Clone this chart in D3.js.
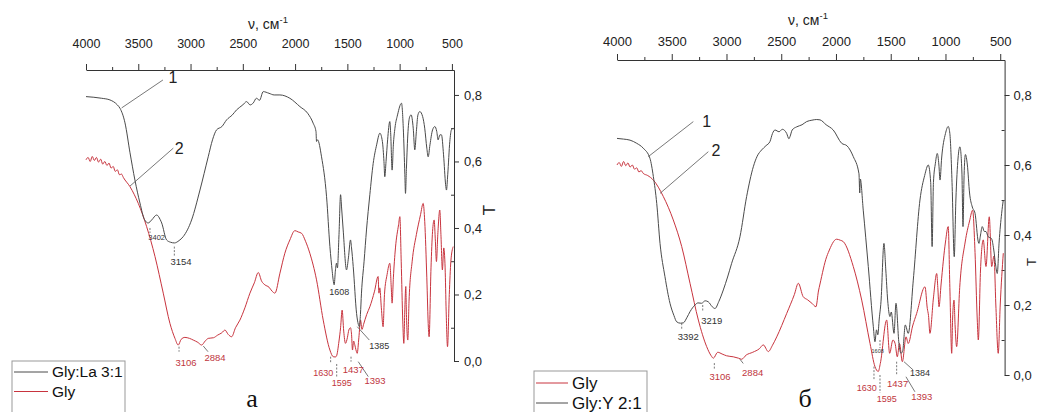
<!DOCTYPE html>
<html>
<head>
<meta charset="utf-8">
<script src="https://cdn.jsdelivr.net/npm/d3@7"></script>
<style>
body{margin:0;background:#fff;}
svg{display:block;font-family:"Liberation Sans",Arial,sans-serif;}
</style>
</head>
<body>
<svg id="chart" width="1038" height="412"></svg>
<script>
// axis ticks
var xTicks = [4000,3500,3000,2500,2000,1500,1000,500];
var xMinorTicks = [3750,3250,2750,2250,1750,1250,750];
var yTicks = [0,0.2,0.4,0.6,0.8];
var yMinorTicks = [0.1,0.3,0.5,0.7];

// panel a: Gly:La 3:1 (curve 1) and Gly (curve 2), [wavenumber, T]
var glyLa = [[4000,0.795],[3850,0.79],[3771,0.785],[3700,0.77],[3675,0.76],[3627,0.716],[3579,0.626],[3532,0.544],[3484,0.475],[3440,0.425],[3405,0.415],[3372,0.424],[3324,0.439],[3290,0.425],[3276,0.415],[3229,0.364],[3190,0.357],[3154,0.355],[3110,0.362],[3070,0.374],[2990,0.424],[2910,0.514],[2831,0.614],[2790,0.665],[2751,0.695],[2700,0.705],[2655,0.725],[2600,0.74],[2560,0.755],[2500,0.77],[2464,0.78],[2430,0.77],[2400,0.776],[2370,0.79],[2340,0.784],[2305,0.81],[2250,0.805],[2200,0.80],[2145,0.80],[2050,0.79],[1954,0.765],[1880,0.745],[1827,0.715],[1800,0.69],[1795,0.66],[1785,0.665],[1747,0.614],[1699,0.494],[1667,0.344],[1645,0.27],[1636,0.244],[1626,0.229],[1615,0.27],[1604,0.294],[1595,0.28],[1580,0.38],[1565,0.50],[1555,0.46],[1540,0.394],[1508,0.274],[1490,0.31],[1470,0.364],[1460,0.34],[1444,0.284],[1412,0.143],[1395,0.11],[1385,0.103],[1375,0.14],[1365,0.204],[1340,0.30],[1317,0.394],[1285,0.50],[1253,0.594],[1220,0.65],[1189,0.685],[1165,0.66],[1150,0.60],[1142,0.554],[1130,0.60],[1115,0.665],[1094,0.72],[1085,0.68],[1072,0.574],[1060,0.65],[1045,0.70],[1020,0.74],[982,0.775],[965,0.70],[950,0.56],[944,0.504],[935,0.58],[920,0.69],[903,0.735],[890,0.74],[870,0.70],[855,0.635],[840,0.69],[825,0.74],[807,0.75],[780,0.735],[760,0.70],[740,0.64],[727,0.614],[710,0.65],[685,0.695],[663,0.705],[645,0.69],[632,0.665],[615,0.68],[600,0.68],[580,0.62],[560,0.53],[552,0.514],[540,0.56],[520,0.66],[505,0.695],[488,0.70]];
var glyA = [[4000,0.605],[3980,0.612],[3960,0.6],[3940,0.615],[3920,0.603],[3900,0.612],[3880,0.598],[3860,0.607],[3840,0.592],[3820,0.6],[3800,0.588],[3780,0.595],[3760,0.58],[3740,0.585],[3720,0.57],[3700,0.575],[3680,0.56],[3660,0.562],[3643,0.552],[3579,0.524],[3500,0.474],[3420,0.404],[3340,0.314],[3261,0.204],[3197,0.113],[3149,0.068],[3118,0.048],[3090,0.065],[3054,0.071],[3010,0.068],[2974,0.063],[2930,0.056],[2894,0.048],[2860,0.06],[2831,0.068],[2780,0.07],[2740,0.078],[2700,0.085],[2671,0.093],[2640,0.08],[2607,0.073],[2570,0.10],[2528,0.123],[2480,0.16],[2432,0.204],[2390,0.235],[2352,0.266],[2320,0.24],[2289,0.229],[2250,0.222],[2220,0.21],[2193,0.204],[2145,0.264],[2098,0.324],[2050,0.364],[2002,0.392],[1970,0.388],[1938,0.384],[1900,0.36],[1859,0.324],[1795,0.244],[1731,0.123],[1667,0.033],[1636,0.013],[1615,0.012],[1604,0.015],[1580,0.06],[1565,0.10],[1550,0.153],[1535,0.09],[1518,0.053],[1500,0.07],[1486,0.093],[1470,0.10],[1460,0.08],[1451,0.033],[1440,0.06],[1430,0.05],[1415,0.03],[1406,0.023],[1390,0.07],[1374,0.123],[1360,0.095],[1345,0.11],[1315,0.14],[1285,0.163],[1240,0.21],[1206,0.254],[1198,0.204],[1190,0.22],[1175,0.16],[1158,0.103],[1145,0.20],[1120,0.26],[1094,0.294],[1080,0.22],[1072,0.174],[1060,0.25],[1040,0.34],[1010,0.41],[998,0.434],[985,0.30],[970,0.12],[960,0.053],[950,0.16],[941,0.224],[935,0.14],[922,0.063],[910,0.18],[880,0.30],[840,0.38],[800,0.44],[775,0.474],[760,0.42],[740,0.25],[725,0.10],[718,0.073],[700,0.28],[685,0.39],[670,0.424],[658,0.36],[648,0.299],[635,0.38],[616,0.454],[605,0.38],[591,0.274],[578,0.34],[565,0.28],[555,0.15],[542,0.043],[525,0.20],[510,0.30],[488,0.344]];

// panel б: Gly:Y 2:1 (curve 1) and Gly (curve 2)
var glyY = [[4000,0.676],[3940,0.674],[3881,0.671],[3820,0.662],[3760,0.648],[3699,0.619],[3668,0.567],[3637,0.49],[3607,0.376],[3562,0.281],[3516,0.205],[3480,0.17],[3455,0.152],[3420,0.148],[3394,0.149],[3360,0.165],[3333,0.181],[3288,0.20],[3260,0.206],[3227,0.205],[3195,0.212],[3166,0.209],[3130,0.195],[3105,0.19],[3070,0.21],[3029,0.243],[2990,0.28],[2953,0.319],[2877,0.395],[2816,0.51],[2755,0.595],[2720,0.625],[2679,0.643],[2640,0.655],[2603,0.667],[2580,0.69],[2557,0.70],[2520,0.695],[2490,0.702],[2450,0.69],[2430,0.675],[2420,0.681],[2400,0.70],[2359,0.709],[2310,0.715],[2268,0.724],[2220,0.728],[2176,0.73],[2146,0.729],[2090,0.715],[2025,0.70],[1948,0.662],[1900,0.655],[1842,0.624],[1790,0.575],[1783,0.52],[1778,0.56],[1751,0.471],[1705,0.31],[1659,0.138],[1644,0.095],[1630,0.129],[1618,0.115],[1605,0.16],[1589,0.209],[1562,0.376],[1545,0.30],[1528,0.214],[1507,0.167],[1495,0.18],[1470,0.119],[1452,0.205],[1425,0.09],[1406,0.062],[1390,0.07],[1367,0.143],[1340,0.119],[1294,0.271],[1233,0.50],[1190,0.57],[1157,0.60],[1135,0.55],[1122,0.367],[1110,0.55],[1092,0.605],[1075,0.633],[1060,0.60],[1050,0.557],[1035,0.62],[1000,0.69],[975,0.71],[960,0.69],[940,0.55],[920,0.338],[905,0.50],[885,0.62],[868,0.652],[850,0.58],[840,0.424],[830,0.57],[818,0.63],[800,0.60],[780,0.52],[755,0.48],[730,0.462],[700,0.38],[694,0.376],[680,0.40],[664,0.424],[645,0.41],[630,0.41],[610,0.395],[580,0.39],[560,0.36],[540,0.31],[527,0.29],[510,0.38],[487,0.462],[472,0.50]];
var glyB = [[4000,0.60],[3980,0.607],[3960,0.596],[3940,0.61],[3920,0.598],[3900,0.606],[3881,0.594],[3860,0.6],[3840,0.588],[3820,0.592],[3800,0.58],[3780,0.584],[3760,0.576],[3720,0.57],[3668,0.557],[3577,0.51],[3486,0.443],[3409,0.367],[3333,0.262],[3257,0.157],[3181,0.081],[3140,0.055],[3120,0.048],[3080,0.065],[3040,0.06],[3000,0.055],[2938,0.052],[2890,0.048],[2862,0.045],[2820,0.057],[2760,0.065],[2700,0.075],[2664,0.086],[2618,0.067],[2580,0.085],[2541,0.109],[2450,0.176],[2380,0.23],[2344,0.262],[2300,0.224],[2260,0.215],[2220,0.205],[2183,0.195],[2160,0.24],[2146,0.26],[2085,0.338],[2070,0.35],[1994,0.388],[1960,0.385],[1933,0.381],[1842,0.31],[1765,0.214],[1689,0.09],[1644,0.024],[1614,0.01],[1595,0.033],[1537,0.157],[1510,0.062],[1480,0.10],[1460,0.09],[1440,0.052],[1420,0.09],[1394,0.038],[1360,0.109],[1340,0.09],[1300,0.14],[1263,0.176],[1187,0.252],[1166,0.19],[1155,0.17],[1142,0.119],[1110,0.22],[1080,0.29],[1070,0.25],[1059,0.195],[1040,0.26],[1000,0.38],[975,0.424],[960,0.25],[943,0.062],[935,0.16],[922,0.214],[912,0.14],[898,0.081],[870,0.25],[820,0.38],[780,0.44],[752,0.471],[730,0.35],[710,0.16],[700,0.10],[680,0.30],[655,0.386],[630,0.31],[600,0.452],[578,0.31],[557,0.34],[540,0.2],[518,0.062],[500,0.2],[472,0.348]];

// peak labels: text, wavenumber, T, font size, colour
var labelsA = [
  {t:"1", nu:3168, v:0.854, s:16, c:"#222"},
  {t:"2", nu:3108, v:0.64, s:16, c:"#222"},
  {t:"3402", nu:3324, v:0.372, s:7.5, c:"#333"},
  {t:"3154", nu:3091, v:0.299, s:9.5, c:"#333"},
  {t:"3106", nu:3044, v:-0.005, s:9.5, c:"#c0363e"},
  {t:"2884", nu:2766, v:0.011, s:9.5, c:"#c0363e"},
  {t:"1608", nu:1577, v:0.207, s:9, c:"#333"},
  {t:"1385", nu:1195, v:0.046, s:9, c:"#333"},
  {t:"1630", nu:1730, v:-0.035, s:9, c:"#c0363e"},
  {t:"1595", nu:1554, v:-0.067, s:9, c:"#c0363e"},
  {t:"1437", nu:1443, v:-0.025, s:9.5, c:"#c0363e"},
  {t:"1393", nu:1236, v:-0.059, s:9.5, c:"#c0363e"}
];
// leaders: nu1, T1, nu2, T2, dashed
var leadersA = [
  [3659,0.761,3264,0.845,0],[3579,0.526,3165,0.64,0],
  [3388,0.40,3388,0.385,1],[3155,0.344,3155,0.314,1],
  [3110,0.043,3110,0.028,1],[2878,0.045,2833,0.028,0],
  [1405,0.103,1290,0.063,0],[1660,0.013,1660,-0.005,1],
  [1602,-0.009,1602,-0.051,1],[1465,0.013,1465,-0.002,1],
  [1396,-0.002,1300,-0.047,0]
];
var labelsB = [
  {t:"1", nu:3181, v:0.724, s:16, c:"#222"},
  {t:"2", nu:3096, v:0.643, s:16, c:"#222"},
  {t:"3392", nu:3349, v:0.109, s:9.5, c:"#333"},
  {t:"3219", nu:3135, v:0.155, s:9.5, c:"#333"},
  {t:"3106", nu:3059, v:-0.005, s:9.5, c:"#c0363e"},
  {t:"2884", nu:2761, v:0.007, s:9.5, c:"#c0363e"},
  {t:"1608", nu:1619, v:0.067, s:5.5, c:"#333"},
  {t:"1384", nu:1233, v:0.005, s:9, c:"#333"},
  {t:"1630", nu:1720, v:-0.036, s:9, c:"#c0363e"},
  {t:"1595", nu:1537, v:-0.069, s:9, c:"#c0363e"},
  {t:"1437", nu:1437, v:-0.024, s:9.5, c:"#c0363e"},
  {t:"1393", nu:1217, v:-0.062, s:9.5, c:"#c0363e"}
];
var leadersB = [
  [3714,0.624,3303,0.724,0],[3607,0.519,3166,0.638,0],
  [3409,0.148,3409,0.129,1],[3217,0.20,3217,0.181,1],
  [3111,0.034,3111,0.014,1],[2877,0.045,2847,0.033,0],
  [1598,0.10,1598,0.077,1],[1379,0.038,1294,0.014,0],
  [1653,0.024,1653,-0.014,1],[1598,0,1598,-0.051,1],
  [1446,0.038,1446,0,1],[1361,-0.005,1279,-0.048,0]
];

var GRAY = "#4a4a4a", RED = "#c8343e";
var svg = d3.select("#chart");

function commaFmt(d){ return d.toFixed(1).replace(".", ","); }

function drawPanel(p){
  var x = d3.scaleLinear().domain(p.xDomain).range([p.left, p.right]);
  var y = d3.scaleLinear().domain(p.yDomain).range([p.bottom, p.top]);
  var g = svg.append("g");

  //top axis
  var ax = g.append("g")
    .attr("transform", "translate(0," + p.top + ")")
    .call(d3.axisTop(x).tickValues(xTicks).tickSize(6).tickSizeOuter(0)
      .tickPadding(p.xPad).tickFormat(d3.format("d")));
  ax.selectAll("text").attr("font-size", p.xFont).attr("font-family", "Liberation Sans, Arial, sans-serif").attr("fill", "#222");
  g.append("g")
    .attr("transform", "translate(0," + p.top + ")")
    .call(d3.axisTop(x).tickValues(xMinorTicks).tickSize(3).tickFormat(""))
    .select(".domain").remove();

  //right axis
  var ay = g.append("g")
    .attr("transform", "translate(" + p.right + ",0)")
    .call(d3.axisRight(y).tickValues(yTicks).tickSize(5).tickSizeOuter(0)
      .tickPadding(p.yPad).tickFormat(commaFmt));
  ay.selectAll("text").attr("font-size", 13).attr("font-family", "Liberation Sans, Arial, sans-serif").attr("fill", "#222");
  g.append("g")
    .attr("transform", "translate(" + p.right + ",0)")
    .call(d3.axisLeft(y).tickValues(yMinorTicks).tickSize(3).tickFormat(""))
    .select(".domain").remove();
  g.selectAll(".domain, .tick line").attr("stroke", "#333");

  //axis titles
  var tt = g.append("text").attr("x", p.titleX).attr("y", p.titleY)
    .attr("text-anchor", "middle").attr("font-size", 14).attr("fill", "#222");
  tt.append("tspan").text("ν, см");
  tt.append("tspan").attr("dy", -6).attr("font-size", 9.5).text("-1");
  g.append("text")
    .attr("transform", "translate(" + p.tX + "," + p.tY + ") rotate(-90)")
    .attr("text-anchor", "middle").attr("dy", "0.35em")
    .attr("font-size", p.tFont).attr("fill", "#222").text("T");

  //spectra
  var line = d3.line()
    .x(function(d){ return x(d[0]); })
    .y(function(d){ return y(d[1]); })
    .curve(d3.curveMonotoneX);
  p.series.forEach(function(s){
    g.append("path").datum(s.data)
      .attr("d", line).attr("fill", "none")
      .attr("stroke", s.color).attr("stroke-width", 1);
  });

  //leaders + labels
  g.selectAll(".leader").data(p.leaders).enter().append("line")
    .attr("x1", function(d){ return x(d[0]); })
    .attr("y1", function(d){ return y(d[1]); })
    .attr("x2", function(d){ return x(d[2]); })
    .attr("y2", function(d){ return y(d[3]); })
    .attr("stroke", "#555").attr("stroke-width", 0.8)
    .attr("stroke-dasharray", function(d){ return d[4] ? "2,1.5" : null; });
  g.selectAll(".lbl").data(p.labels).enter().append("text")
    .attr("x", function(d){ return x(d.nu); })
    .attr("y", function(d){ return y(d.v); })
    .attr("dy", "0.35em").attr("text-anchor", "middle")
    .attr("font-size", function(d){ return d.s; })
    .attr("fill", function(d){ return d.c; })
    .text(function(d){ return d.t; });

  //legend
  var lg = g.append("g");
  lg.append("rect").attr("x", p.legX).attr("y", p.legY)
    .attr("width", p.legW).attr("height", 60)
    .attr("fill", "#fff").attr("stroke", "#999").attr("stroke-width", 1);
  p.legend.forEach(function(e, i){
    var cy = p.legY + p.legRow0 + i * p.legStep;
    lg.append("line").attr("x1", p.legX + 2).attr("x2", p.legX + p.legLine)
      .attr("y1", cy).attr("y2", cy)
      .attr("stroke", e.color).attr("stroke-width", 1);
    lg.append("text").attr("x", p.legX + p.legLine + 4).attr("y", cy)
      .attr("dy", "0.35em").attr("font-size", p.legFont).attr("fill", "#111")
      .text(e.name);
  });

  //panel letter
  g.append("text").attr("x", p.letterX).attr("y", 407)
    .attr("text-anchor", "middle").attr("font-size", 26)
    .attr("font-family", "Liberation Serif, Times New Roman, serif")
    .attr("fill", "#111").text(p.letter);
}

drawPanel({
  left: 86, right: 454, top: 70, bottom: 361,
  xDomain: [4000, 480], yDomain: [0, 0.875],
  xPad: 16, xFont: 12.5, yPad: 5,
  titleX: 268, titleY: 29, tX: 489, tY: 210, tFont: 17,
  series: [{data: glyA, color: RED}, {data: glyLa, color: GRAY}],
  labels: labelsA, leaders: leadersA,
  legX: 12, legY: 361, legW: 113, legRow0: 11, legStep: 19.5, legLine: 36, legFont: 15.5,
  legend: [{name: "Gly:La 3:1", color: GRAY}, {name: "Gly", color: RED}],
  letter: "а", letterX: 252
});

drawPanel({
  left: 617, right: 1004.6, top: 60, bottom: 375,
  xDomain: [4000, 460], yDomain: [0, 0.9],
  xPad: 8, xFont: 13, yPad: 4,
  titleX: 808, titleY: 25, tX: 1031, tY: 262, tFont: 13,
  series: [{data: glyB, color: RED}, {data: glyY, color: GRAY}],
  labels: labelsB, leaders: leadersB,
  legX: 534, legY: 371, legW: 113, legRow0: 12, legStep: 20, legLine: 34, legFont: 17,
  legend: [{name: "Gly", color: RED}, {name: "Gly:Y 2:1", color: GRAY}],
  letter: "б", letterX: 805
});
</script>
</body>
</html>
